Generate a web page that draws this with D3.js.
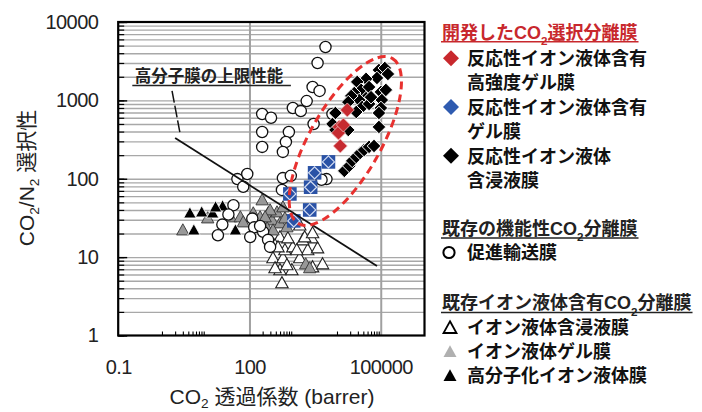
<!DOCTYPE html>
<html>
<head>
<meta charset="utf-8">
<script src="https://cdn.jsdelivr.net/npm/d3@7"></script>
<style>
body { margin: 0; background: #fff; }
svg { display: block; }
</style>
</head>
<body>
<div id="chart"></div>
<script>

var width = 702;
var height = 412;
var plot = {left: 118.2, right: 424.5, top: 22, bottom: 335.5};
var latin = "'Liberation Sans', Arial, 'Noto Sans CJK JP', sans-serif";

// CO2 permeability (barrer) / CO2/N2 selectivity
var circleX = [5460, 3600, 2770, 4000, 2030, 980, 1490, 195, 311, 195, 795, 680, 195, 580, 2920, 7870,
  89, 53, 72, 580, 880, 552, 5750, 4440, 43, 33, 24, 19, 116, 128, 104, 205, 266, 296, 175];
var circleY = [4800, 3000, 1480, 1320, 980, 800, 730, 670, 600, 395, 395, 295, 255, 220, 500, 670,
  115, 99, 79, 102, 109, 72, 99, 97, 46, 35, 26, 19, 31, 24, 18, 21, 16.6, 13.5, 25];

var openTriX = [552, 498, 929, 345, 582, 646, 1410, 2140, 3600, 2640, 1650, 2770, 4680, 498, 384, 979,
  755, 1205, 1830, 2770, 716, 384, 449, 1410];
var openTriY = [4.7, 6.9, 6.9, 9.8, 9.8, 12.4, 9.8, 12.4, 13.1, 17.6, 16.6, 7.5, 8.2, 18.1, 14.3, 13.5,
  17.6, 12.4, 18.1, 20.4, 8.0, 7.3, 13.5, 25.7];

var grayTriX = [3.0, 11.1, 36.8, 61.9, 195, 122, 175, 266, 328, 426, 498, 716, 175, 253, 345, 646, 72,
  296, 582, 228, 979, 1930, 2380];
var grayTriY = [22.2, 31.6, 32.6, 32.6, 53.7, 36.6, 32.6, 36.6, 29.8, 37.7, 27.3, 24.3, 24.3, 23.6, 22.2,
  31.6, 28.1, 40.0, 43.7, 32.6, 31.6, 8.2, 7.3];

var blackTriX = [4.35, 5.35, 8.1, 14.4, 24.3, 47.7, 16.8];
var blackTriY = [36.6, 22.2, 37.7, 36.6, 45.0, 22.2, 43.7];

var blackDiaX = [91000, 124000, 146000, 82000, 46200, 29000, 35600, 24800, 54100, 101000, 131000, 46200,
  32100, 37600, 27500, 54100, 106000, 101000, 91000, 91000, 21200, 60000, 18100, 9200, 7870, 9200, 18100,
  14700, 19100, 22300, 27500, 33800, 41700, 54100, 70200];
var blackDiaY = [2440, 2590, 2170, 1930, 1880, 1720, 1360, 1240, 1480, 1280, 1360, 1070,
  1010, 824, 711, 900, 1010, 800, 690, 458, 1140, 1100, 950, 690, 500, 419, 419,
  126, 146, 169, 190, 213, 233, 255, 262];

var redDiaX = [17200, 11300, 10800, 11900, 14000];
var redDiaY = [755, 458, 384, 262, 485];

var blueDiaX = [6380, 3080, 2500, 838, 2380, 1030];
var blueDiaY = [164, 119, 78, 64, 40, 29];

// upper bound line (end points)
var boundX = [2, 82000];
var boundY = [331, 7.7];

var xTicks = [0.1, 100, 100000];
var xMinorTicks = [1, 2, 3, 4, 5, 6, 7, 8, 9, 200, 300, 400, 500, 600, 700, 800, 900,
  10000, 20000, 30000, 40000, 50000, 60000, 70000, 80000, 90000];
var yTicks = [1, 10, 100, 1000, 10000];

var xTitle = ["CO", "2", " 透過係数 (barrer)"];
var yTitle = ["CO", "2", "/N", "2", " 選択性"];
var boundLabel = "高分子膜の上限性能";

var devTitle = ["開発したCO", "2", "選択分離膜"];
var devItems = [["反応性イオン液体含有", "高強度ゲル膜"], ["反応性イオン液体含有", "ゲル膜"], ["反応性イオン液体", "含浸液膜"]];
var funcTitle = ["既存の機能性CO", "2", "分離膜"];
var funcItems = ["促進輸送膜"];
var ilTitle = ["既存イオン液体含有CO", "2", "分離膜"];
var ilItems = ["イオン液体含浸液膜", "イオン液体ゲル膜", "高分子化イオン液体膜"];


var svg = d3.select("#chart")
  .append("svg")
  .attr("width", width)
  .attr("height", height);

var x = d3.scaleLog().domain([0.1, 1000000]).range([plot.left, plot.right]);
var y = d3.scaleLog().domain([1, 10000]).range([plot.bottom, plot.top]);

// grid
var gy = svg.append("g")
  .attr("transform", "translate(" + plot.left + ",0)")
  .call(d3.axisRight(y).tickValues(y.ticks().filter(function(d) { return d > 1 && d < 10000; }))
    .tickSize(plot.right - plot.left).tickFormat(""));
gy.select(".domain").remove();
gy.selectAll("line").attr("stroke", "#a8a8a8").attr("stroke-width", 1.4);

var gx = svg.append("g")
  .attr("transform", "translate(0," + plot.bottom + ")")
  .call(d3.axisTop(x).tickValues([100, 100000]).tickSize(plot.bottom - plot.top).tickFormat(""));
gx.select(".domain").remove();
gx.selectAll("line").attr("stroke", "#a0a0a0").attr("stroke-width", 2);

// tick marks
var minorY = svg.append("g")
  .attr("transform", "translate(" + plot.left + ",0)")
  .call(d3.axisRight(y).tickValues(y.ticks()).tickSize(6).tickFormat(""));
minorY.select(".domain").remove();
minorY.selectAll("line").attr("stroke", "#000").attr("stroke-width", 1.2);

var majorY = svg.append("g")
  .attr("transform", "translate(" + plot.left + ",0)")
  .call(d3.axisRight(y).tickValues(yTicks).tickSize(9).tickFormat(""));
majorY.select(".domain").remove();
majorY.selectAll("line").attr("stroke", "#000").attr("stroke-width", 1.4);

var minorX = svg.append("g")
  .attr("transform", "translate(0," + plot.bottom + ")")
  .call(d3.axisTop(x).tickValues(xMinorTicks).tickSize(4).tickFormat(""));
minorX.select(".domain").remove();
minorX.selectAll("line").attr("stroke", "#000").attr("stroke-width", 1.1);

// marker shapes
function triPath(s) {
  return "M0," + (-s) + "L" + s + "," + (s * 0.8) + "L" + (-s) + "," + (s * 0.8) + "Z";
}
function diaPath(s) {
  return "M0," + (-s) + "L" + s + ",0L0," + s + "L" + (-s) + ",0Z";
}
function place(d) { return "translate(" + x(d[0]) + "," + y(d[1]) + ")"; }

svg.append("g").selectAll("path")
  .data(d3.zip(openTriX, openTriY))
  .enter().append("path")
  .attr("transform", place)
  .attr("d", triPath(6.2))
  .attr("fill", "#fff").attr("stroke", "#222").attr("stroke-width", 1.1);

svg.append("g").selectAll("path")
  .data(d3.zip(grayTriX, grayTriY))
  .enter().append("path")
  .attr("transform", place)
  .attr("d", triPath(6.2))
  .attr("fill", "#989898").attr("stroke", "#333").attr("stroke-width", 0.9);

svg.append("g").selectAll("path")
  .data(d3.zip(blackTriX, blackTriY))
  .enter().append("path")
  .attr("transform", place)
  .attr("d", triPath(6.2))
  .attr("fill", "#000").attr("stroke", "#fff").attr("stroke-width", 0.8);

svg.append("g").selectAll("circle")
  .data(d3.zip(circleX, circleY))
  .enter().append("circle")
  .attr("cx", function(d) { return x(d[0]); })
  .attr("cy", function(d) { return y(d[1]); })
  .attr("r", 5.6)
  .attr("fill", "#fff").attr("stroke", "#111").attr("stroke-width", 1.3);

svg.append("g").selectAll("path")
  .data(d3.zip(blackDiaX, blackDiaY))
  .enter().append("path")
  .attr("transform", place)
  .attr("d", diaPath(6.8))
  .attr("fill", "#000").attr("stroke", "#fff").attr("stroke-width", 1);

svg.append("g").selectAll("path")
  .data(d3.zip(redDiaX, redDiaY))
  .enter().append("path")
  .attr("transform", place)
  .attr("d", diaPath(7))
  .attr("fill", "#c62a30").attr("stroke", "#f2c0c0").attr("stroke-width", 0.8);

var blue = svg.append("g").selectAll("g")
  .data(d3.zip(blueDiaX, blueDiaY))
  .enter().append("g")
  .attr("transform", place);
blue.append("rect")
  .attr("x", -6.8).attr("y", -6.8).attr("width", 13.6).attr("height", 13.6)
  .attr("fill", "#2a52a6");
blue.append("path")
  .attr("d", diaPath(6))
  .attr("fill", "#2a52a6").attr("stroke", "#d4ddf2").attr("stroke-width", 1.2);

// upper bound line
svg.append("line")
  .attr("x1", x(boundX[0])).attr("y1", y(boundY[0]))
  .attr("x2", x(boundX[1])).attr("y2", y(boundY[1]))
  .attr("stroke", "#111").attr("stroke-width", 1.8);

// label + leader
svg.append("text")
  .attr("x", x(0.24)).attr("y", y(2050) + 6.3)
  .attr("font-family", latin).attr("font-size", 16.5).attr("font-weight", "bold")
  .attr("fill", "#222")
  .text(boundLabel);
svg.append("line")
  .attr("x1", x(0.21)).attr("x2", x(884))
  .attr("y1", y(1550)).attr("y2", y(1550))
  .attr("stroke", "#222").attr("stroke-width", 1.5);
svg.append("line")
  .attr("x1", x(1.7)).attr("y1", y(1320))
  .attr("x2", x(2.58)).attr("y2", y(384))
  .attr("stroke", "#111").attr("stroke-width", 1.5).attr("stroke-dasharray", "12,3");

// ellipse around developed membranes
svg.append("ellipse")
  .attr("transform", "translate(" + x(15500) + "," + y(303) + ") rotate(-60.4)")
  .attr("rx", 95).attr("ry", 35.5)
  .attr("fill", "none")
  .attr("stroke", "#e8312f").attr("stroke-width", 3)
  .attr("stroke-dasharray", "8,5");

// frame
svg.append("rect")
  .attr("x", plot.left).attr("y", plot.top)
  .attr("width", plot.right - plot.left).attr("height", plot.bottom - plot.top)
  .attr("fill", "none").attr("stroke", "#000").attr("stroke-width", 2.2);

// tick labels
var ly = svg.append("g")
  .attr("transform", "translate(" + plot.left + ",0)")
  .call(d3.axisLeft(y).tickValues(yTicks).tickSize(0).tickPadding(20).tickFormat(d3.format("d")));
ly.select(".domain").remove();
ly.attr("font-family", latin).attr("font-size", 20);
ly.selectAll("text").attr("fill", "#222").attr("letter-spacing", "-0.6");

var lx = svg.append("g")
  .attr("transform", "translate(0," + plot.bottom + ")")
  .call(d3.axisBottom(x).tickValues(xTicks).tickSize(0).tickPadding(24)
    .tickFormat(function(d) { return d < 1 ? "0.1" : d3.format("d")(d); }));
lx.select(".domain").remove();
lx.attr("font-family", latin).attr("font-size", 20);
lx.selectAll("text").attr("fill", "#222").attr("letter-spacing", "-0.6");

// text with subscripts: odd entries are subscripts
function subText(t, parts, size, drop) {
  parts.forEach(function(p, i) {
    var sp = t.append("tspan").text(p);
    if (i % 2 == 1) {
      sp.attr("font-size", size * 0.65).attr("dy", size * drop);
    } else if (i > 0) {
      sp.attr("dy", -size * drop);
    }
  });
}

var xt = svg.append("text")
  .attr("x", 272).attr("y", 404)
  .attr("text-anchor", "middle")
  .attr("font-family", latin).attr("font-size", 21).attr("fill", "#222");
subText(xt, xTitle, 21, 0.2);

var yt = svg.append("text")
  .attr("transform", "translate(34,178) rotate(-90)")
  .attr("text-anchor", "middle")
  .attr("font-family", latin).attr("font-size", 21).attr("fill", "#222");
subText(yt, yTitle, 21, 0.22);

// legend
var lg = svg.append("g")
  .attr("font-family", latin).attr("font-size", 18).attr("font-weight", "bold");
var step = 24.35;

function header(parts, cy, color) {
  var t = lg.append("text").attr("x", 442).attr("y", cy + 6.8).attr("fill", color);
  subText(t, parts, 18, 0.36);
  var w = t.node().getComputedTextLength();
  lg.append("line")
    .attr("x1", 441).attr("x2", 443 + w)
    .attr("y1", cy + 10).attr("y2", cy + 10)
    .attr("stroke", color).attr("stroke-width", 1.4);
}
function item(txt, cy) {
  lg.append("text").attr("x", 467).attr("y", cy + 6.8).attr("fill", "#111").text(txt);
}

header(devTitle, 31.7, "#c8282d");
var devColors = ["#c8282d", "#2f5bb0", "#000"];
devItems.forEach(function(lines, i) {
  var cy = 58.3 + i * 2 * step;
  lg.append("path")
    .attr("transform", "translate(451," + cy + ")")
    .attr("d", diaPath(8))
    .attr("fill", devColors[i]);
  item(lines[0], cy);
  item(lines[1], cy + step);
});

header(funcTitle, 228, "#222");
funcItems.forEach(function(txt, i) {
  var cy = 252.5 + i * step;
  lg.append("circle").attr("cx", 449).attr("cy", cy).attr("r", 5.6)
    .attr("fill", "#fff").attr("stroke", "#000").attr("stroke-width", 2);
  item(txt, cy);
});

header(ilTitle, 302.5, "#222");
var triStyles = [["#fff", "#000", 1.8], ["#b0b0b0", "none", 0], ["#000", "none", 0]];
ilItems.forEach(function(txt, i) {
  var cy = 327.3 + i * 24;
  lg.append("path")
    .attr("transform", "translate(450," + (cy + 0.5) + ")")
    .attr("d", triPath(6.5))
    .attr("fill", triStyles[i][0]).attr("stroke", triStyles[i][1]).attr("stroke-width", triStyles[i][2]);
  item(txt, cy);
});

</script>
</body>
</html>
